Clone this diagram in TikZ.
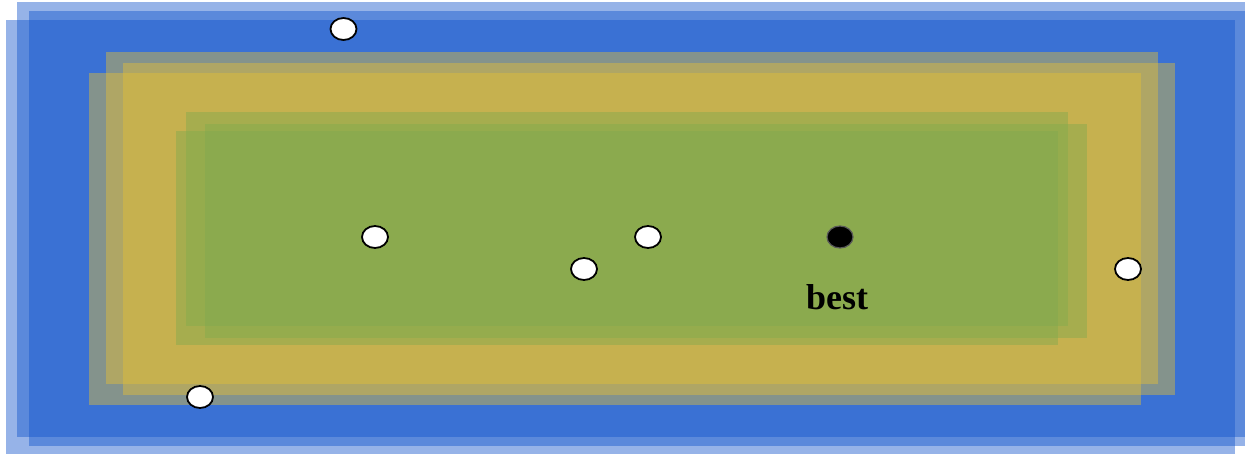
\documentclass[tikz,border=0pt]{standalone}
\usepackage{fontspec}
\setmainfont{Liberation Serif}
\usetikzlibrary{shapes.geometric,positioning}
\definecolor{regblue}{RGB}{16,83,203}
\definecolor{reggold}{RGB}{229,191,51}
\definecolor{reggreen}{RGB}{128,170,79}
\begin{document}
\begin{tikzpicture}[x=1pt,y=-1pt,
        region/.style={fill=#1,fill opacity=0.44},
        sample/.style={ellipse,draw=black,line width=1.8pt,fill=white,minimum width=26pt,minimum height=22pt,inner sep=0pt},
        bestpt/.style={sample,fill=black,draw=black!65,line width=1.2pt}]
    \useasboundingbox (0,0) rectangle (1245,454);
    % outer regions
    \fill[region=regblue] (6,20) rectangle (1235,454);
    \fill[region=regblue] (17,2) rectangle (1245,437);
    \fill[region=regblue] (29,11) rectangle (1245,446);
    % middle regions
    \fill[region=reggold] (89,73) rectangle (1141,405);
    \fill[region=reggold] (106,52) rectangle (1158,384);
    \fill[region=reggold] (123,63) rectangle (1175,395);
    % inner regions
    \fill[region=reggreen] (176,131) rectangle (1058,345);
    \fill[region=reggreen] (186,112) rectangle (1068,326);
    \fill[region=reggreen] (205,124) rectangle (1087,338);
    % points
    \node[sample] (p1) at (343.5,29) {};
    \node[sample] (p2) at (375,237) {};
    \node[sample] (p3) at (584,269) {};
    \node[sample] (p4) at (648,237) {};
    \node[sample] (p5) at (1128,269) {};
    \node[sample] (p6) at (200,397) {};
    \node[bestpt] (best) at (840,237) {};
    \node[anchor=base,font=\fontsize{36}{40}\selectfont\bfseries] (bestlbl) at (837,310) {best};
\end{tikzpicture}
\end{document}
